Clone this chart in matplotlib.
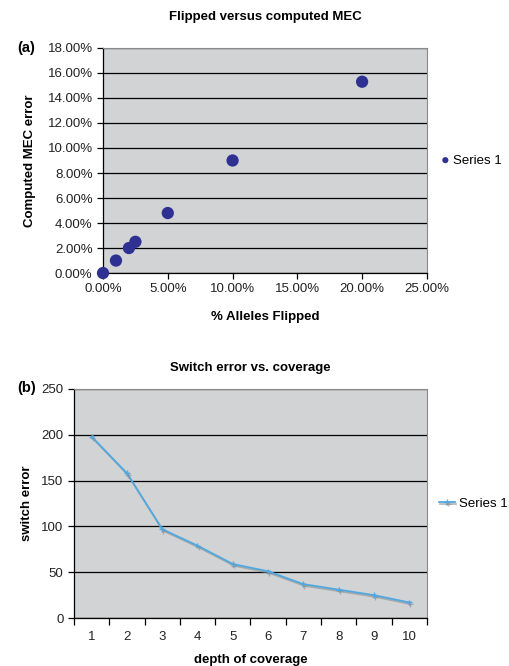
#### Flipped vs computed MEC / switch error vs coverage ####

import numpy as np
import matplotlib
matplotlib.use("Agg")
import matplotlib.pyplot as plt
import matplotlib.patheffects as pe
from matplotlib.ticker import PercentFormatter

plt.rcParams["font.family"] = ["Liberation Sans", "DejaVu Sans"]

# panel (a) data
flipped = [0.0, 1.0, 2.0, 2.5, 5.0, 10.0, 20.0]      # % alleles flipped
mec_error = [0.0, 1.0, 2.0, 2.5, 4.8, 9.0, 15.3]     # computed MEC error %

# panel (b) data
coverage = [1, 2, 3, 4, 5, 6, 7, 8, 9, 10]
switch_err = [198, 158, 97, 79, 59, 51, 37, 31, 25, 17]

bg = "#d2d3d5"
dot_col = "#2e3192"
line_col = "#4fa9e0"

fig = plt.figure(figsize=(5.1, 6.66), dpi=100)

def style_axes(ax):
    ax.set_facecolor(bg)
    ax.set_axisbelow(True)
    ax.yaxis.grid(True, color="black", linewidth=0.9)
    for s in ["top", "right"]:
        ax.spines[s].set_color("#8a8a8a")
        ax.spines[s].set_linewidth(0.8)
    for s in ["left", "bottom"]:
        ax.spines[s].set_color("black")
        ax.spines[s].set_linewidth(0.9)
    ax.tick_params(direction="out", length=4, width=0.9, labelsize=9.5,
                   colors="black", labelcolor="#222222")

# ---- (a) ----
ax1 = fig.add_axes([0.202, 0.590, 0.635, 0.338])
style_axes(ax1)
ax1.scatter(flipped, mec_error, s=78, color=dot_col, zorder=3,
            edgecolors="none", label="Series 1", clip_on=False)
ax1.set_xlim(0, 25)
ax1.set_ylim(0, 18)
ax1.set_xticks(np.arange(0, 26, 5))
ax1.set_yticks(np.arange(0, 19, 2))
ax1.xaxis.set_major_formatter(PercentFormatter(decimals=2))
ax1.yaxis.set_major_formatter(PercentFormatter(decimals=2))
ax1.set_title("Flipped versus computed MEC", fontsize=9.5, fontweight="bold",
              pad=20)
ax1.set_xlabel("% Alleles Flipped", fontsize=9.5, fontweight="bold", labelpad=11)
ax1.set_ylabel("Computed MEC error", fontsize=9.5, fontweight="bold", labelpad=8)
ax1.legend(loc="center left", bbox_to_anchor=(1.0, 0.5), frameon=False,
           fontsize=9.5, handletextpad=-0.4, markerscale=0.5,
           borderaxespad=0, scatterpoints=1)
fig.text(0.033, 0.928, "(a)", fontsize=10.5, va="center", fontweight="bold")

# ---- (b) ----
ax2 = fig.add_axes([0.145, 0.072, 0.692, 0.344])
style_axes(ax2)
ax2.plot(coverage, switch_err, color=line_col, linewidth=1.3, marker="+",
         markersize=4, markeredgewidth=1.0, label="Series 1", zorder=3,
         path_effects=[pe.SimpleLineShadow(offset=(0.8, -1.2), shadow_color="#8c8c8c",
                                           alpha=0.6), pe.Normal()])
ax2.set_xlim(0.5, 10.5)
ax2.set_ylim(0, 250)
ax2.set_yticks(np.arange(0, 251, 50))
ax2.set_xticks(coverage)
ax2.set_xticks(np.arange(0.5, 10.6, 1), minor=True)
ax2.tick_params(axis="x", which="major", length=0, pad=9)
ax2.tick_params(axis="x", which="minor", direction="out", length=5, width=0.9)
ax2.set_title("Switch error vs. coverage", fontsize=9.5, fontweight="bold", pad=13)
ax2.set_xlabel("depth of coverage", fontsize=9.5, fontweight="bold", labelpad=8)
ax2.set_ylabel("switch error", fontsize=9.5, fontweight="bold", labelpad=6)
ax2.legend(loc="center left", bbox_to_anchor=(1.02, 0.5), frameon=False,
           fontsize=9.5, handlelength=1.2, handletextpad=0.3, borderaxespad=0,
           numpoints=1)
fig.text(0.033, 0.418, "(b)", fontsize=10.5, va="center", fontweight="bold")

fig.savefig("out.png", dpi=100, facecolor="white")
